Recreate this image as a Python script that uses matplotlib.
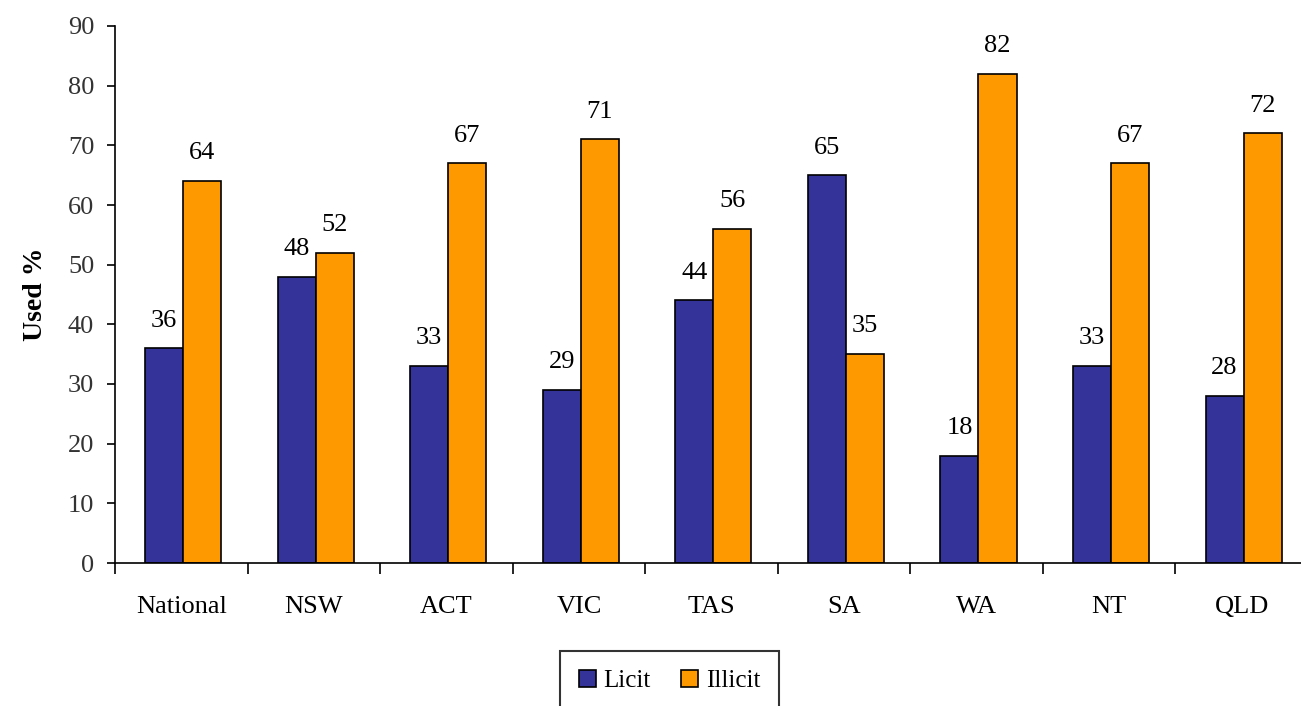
import numpy as np
import matplotlib.pyplot as plt

# data
regions = ['National', 'NSW', 'ACT', 'VIC', 'TAS', 'SA', 'WA', 'NT', 'QLD']
licit = [36, 48, 33, 29, 44, 65, 18, 33, 28]
illicit = [64, 52, 67, 71, 56, 35, 82, 67, 72]

plt.rcParams['font.family'] = ['Liberation Serif', 'DejaVu Serif']

fig = plt.figure(figsize=(13.01, 7.06), dpi=100)
ax = fig.add_axes([115 / 1301, 143 / 706, 1193 / 1301, 537 / 706])

x = np.arange(len(regions)) + 0.5
w = 0.287
b1 = ax.bar(x - w / 2 + 0.014, licit, w, color='#333399', edgecolor='black', linewidth=1.2, label='Licit')
b2 = ax.bar(x + w / 2 + 0.014, illicit, w, color='#FF9900', edgecolor='black', linewidth=1.2, label='Illicit')

# value labels
for bars, vals in ((b1, licit), (b2, illicit)):
    for r, v in zip(bars, vals):
        ax.annotate(str(v), (r.get_x() + r.get_width() / 2, v), xytext=(0, 12),
                    textcoords='offset points', ha='center', va='bottom', fontsize=19)

ax.set_xlim(0, 9)
ax.set_ylim(0, 90)
ax.set_yticks(range(0, 91, 10))
ax.tick_params(axis='y', labelsize=19, length=6, width=1.2, pad=9, colors='black', labelcolor='#333333')

# ticks at category boundaries, labels at centers
ax.set_xticks(np.arange(0, 10))
ax.set_xticklabels([''] * 10)
ax.tick_params(axis='x', which='major', length=8, width=1.2, direction='out')
ax.set_xticks(x, minor=True)
ax.set_xticklabels(regions, minor=True, fontsize=19)
ax.tick_params(axis='x', which='minor', length=0, pad=24)

for s in ('top', 'right'):
    ax.spines[s].set_visible(False)
ax.spines['left'].set_linewidth(1.2)
ax.spines['bottom'].set_linewidth(1.2)

ax.set_ylabel('Used %', fontsize=20, fontweight='bold', labelpad=14)

leg = fig.legend(loc='upper center', bbox_to_anchor=(0.5146, 0.078), ncol=2, fontsize=18,
                 frameon=True, fancybox=False, edgecolor='black', handlelength=0.7, handleheight=0.7,
                 handletextpad=0.3, columnspacing=1.2, borderpad=0.75, borderaxespad=0)
leg.get_frame().set_linewidth(1.5)

fig.savefig('out.png', dpi=100)
